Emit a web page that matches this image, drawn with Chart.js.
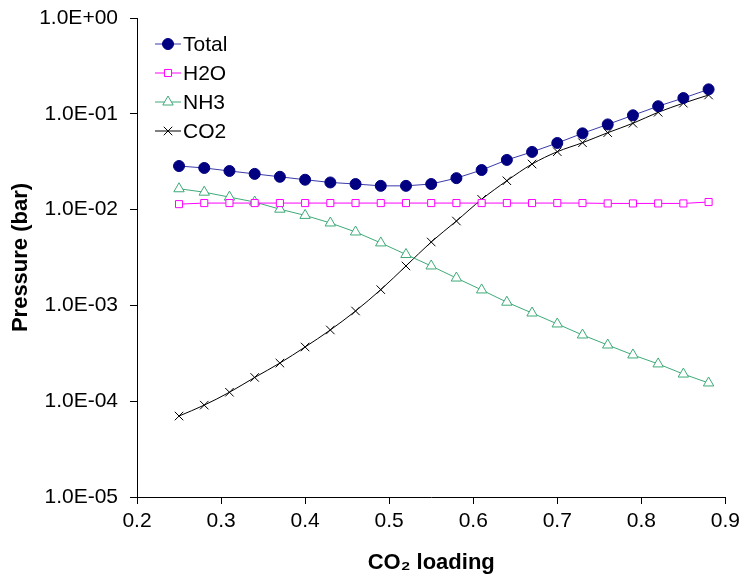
<!DOCTYPE html>
<html lang="en">
<head>
    <meta charset="UTF-8">
    <title>Pressure vs CO2 loading</title>
    <script src="https://cdn.jsdelivr.net/npm/chart.js"></script>
    <style>
        body {
            margin: 0;
            background: #ffffff;
        }
        #wrap {
            width: 745px;
            height: 578px;
        }
    </style>
</head>
<body>
    <div id="wrap"><canvas id="pressureChart" width="745" height="578"></canvas></div>

    <script>
        // CO2 loading values (x)
        const loading = [0.25, 0.28, 0.31, 0.34, 0.37, 0.40, 0.43, 0.46, 0.49, 0.52, 0.55,
                         0.58, 0.61, 0.64, 0.67, 0.70, 0.73, 0.76, 0.79, 0.82, 0.85, 0.88];

        // partial pressures (bar)
        const total = [0.0285, 0.0272, 0.0253, 0.0236, 0.0220, 0.0205, 0.0192, 0.0185, 0.0177, 0.0177, 0.0185,
                       0.0213, 0.0259, 0.0330, 0.0400, 0.0496, 0.0625, 0.0775, 0.0965, 0.120, 0.146, 0.180];
        const h2o = [0.0114, 0.0117, 0.0117, 0.0117, 0.0117, 0.0117, 0.0117, 0.0117, 0.0117, 0.0117, 0.0117,
                     0.0117, 0.0117, 0.0117, 0.0117, 0.0117, 0.0117, 0.0116, 0.0116, 0.0116, 0.0116, 0.0120];
        const nh3 = [0.0165, 0.0152, 0.0135, 0.0120, 0.0101, 0.00870, 0.00725, 0.00584, 0.00449, 0.00340, 0.00258,
                     0.00193, 0.00145, 0.00108, 0.000833, 0.000640, 0.000491, 0.000386, 0.000304, 0.000245, 0.000192, 0.000155];
        const co2 = [0.000070, 0.000091, 0.000124, 0.000177, 0.000250, 0.000368, 0.000554, 0.000874, 0.00146, 0.00258, 0.00459,
                     0.00760, 0.0128, 0.0200, 0.0299, 0.0402, 0.0499, 0.0635, 0.0796, 0.1037, 0.129, 0.157];

        const yTicks = [1e-5, 1e-4, 1e-3, 1e-2, 1e-1, 1];
        const xTicks = [0.2, 0.3, 0.4, 0.5, 0.6, 0.7, 0.8, 0.9];

        const FONT = "'Liberation Sans', Arial, sans-serif";

        function pts(ys) {
            return loading.map((x, i) => ({ x: x, y: ys[i] }));
        }

        function sciLabel(v) {
            const e = Math.round(Math.log10(v));
            const sign = e < 0 ? '-' : '+';
            return '1.0E' + sign + String(Math.abs(e)).padStart(2, '0');
        }

        // legend drawn inside the plot, top left
        const insideLegend = {
            id: 'insideLegend',
            afterDraw(chart) {
                const ctx = chart.ctx;
                const x0 = 155, y0 = 44, gap = 29;
                ctx.save();
                chart.data.datasets.forEach((ds, i) => {
                    const y = y0 + i * gap;
                    ctx.strokeStyle = ds.borderColor;
                    ctx.lineWidth = 1;
                    ctx.beginPath();
                    ctx.moveTo(x0, y);
                    ctx.lineTo(x0 + 26, y);
                    ctx.stroke();
                    // drawPoint fills/strokes with whatever is set on ctx
                    ctx.fillStyle = ds.pointBackgroundColor;
                    ctx.strokeStyle = ds.pointBorderColor;
                    ctx.lineWidth = ds.pointBorderWidth;
                    Chart.helpers.drawPoint(ctx, {
                        pointStyle: ds.pointStyle,
                        radius: ds.pointRadius,
                        rotation: 0,
                        borderWidth: ds.pointBorderWidth
                    }, x0 + 13, y);
                    ctx.fillStyle = '#000';
                    ctx.font = '21px ' + FONT;
                    ctx.textBaseline = 'middle';
                    ctx.fillText(ds.label, x0 + 28, y + 1);
                });
                ctx.restore();
            }
        };

        const ctx = document.getElementById('pressureChart').getContext('2d');
        const chart = new Chart(ctx, {
            type: 'line',
            data: {
                datasets: [
                    {
                        label: 'Total',
                        data: pts(total),
                        borderColor: '#3a3aa8',
                        borderWidth: 1,
                        pointStyle: 'circle',
                        pointRadius: 5.5,
                        pointBackgroundColor: '#000080',
                        pointBorderColor: '#000080',
                        pointBorderWidth: 1
                    },
                    {
                        label: 'H2O',
                        data: pts(h2o),
                        borderColor: '#ff00ff',
                        borderWidth: 1,
                        pointStyle: 'rect',
                        pointRadius: 5,
                        pointBackgroundColor: '#ffffff',
                        pointBorderColor: '#ff00ff',
                        pointBorderWidth: 1
                    },
                    {
                        label: 'NH3',
                        data: pts(nh3),
                        borderColor: '#3daa78',
                        borderWidth: 1,
                        pointStyle: 'triangle',
                        pointRadius: 6,
                        pointBackgroundColor: '#ffffff',
                        pointBorderColor: '#3daa78',
                        pointBorderWidth: 1
                    },
                    {
                        label: 'CO2',
                        data: pts(co2),
                        borderColor: '#000000',
                        borderWidth: 1,
                        pointStyle: 'crossRot',
                        pointRadius: 6,
                        pointBackgroundColor: '#000000',
                        pointBorderColor: '#000000',
                        pointBorderWidth: 1,
                        cubicInterpolationMode: 'monotone'
                    }
                ]
            },
            options: {
                responsive: false,
                animation: false,
                layout: { padding: { left: 0, top: 18, right: 17, bottom: 0 } },
                plugins: {
                    legend: { display: false },
                    tooltip: { enabled: false }
                },
                scales: {
                    x: {
                        type: 'linear',
                        min: 0.2,
                        max: 0.9,
                        afterFit(scale) { scale.height = 81; },
                        afterBuildTicks(scale) { scale.ticks = xTicks.map(v => ({ value: v })); },
                        grid: { drawOnChartArea: false, drawTicks: true, tickLength: 7, color: '#000' },
                        border: { display: true, color: '#000', width: 1 },
                        ticks: {
                            color: '#000',
                            padding: 5,
                            maxRotation: 0,
                            font: { size: 21, family: FONT },
                            callback: v => v.toFixed(1)
                        },
                        title: {
                            display: true,
                            text: 'CO₂ loading',
                            color: '#000',
                            font: { size: 22, weight: 'bold', family: FONT },
                            padding: { top: 4, bottom: 2 }
                        }
                    },
                    y: {
                        type: 'logarithmic',
                        min: 1e-5,
                        max: 1,
                        afterFit(scale) {
                            scale.width = 137;
                            scale.paddingTop = 0;
                            scale.paddingBottom = 0;
                        },
                        afterBuildTicks(scale) { scale.ticks = yTicks.map(v => ({ value: v })); },
                        grid: { drawOnChartArea: false, drawTicks: true, tickLength: 7, color: '#000' },
                        border: { display: true, color: '#000', width: 1 },
                        ticks: {
                            color: '#000',
                            padding: 12,
                            font: { size: 21, family: FONT },
                            callback: v => sciLabel(v)
                        },
                        title: {
                            display: true,
                            text: 'Pressure (bar)',
                            color: '#000',
                            font: { size: 22, weight: 'bold', family: FONT },
                            padding: { top: 8, bottom: 2 }
                        }
                    }
                }
            },
            plugins: [insideLegend]
        });
    </script>
</body>
</html>
